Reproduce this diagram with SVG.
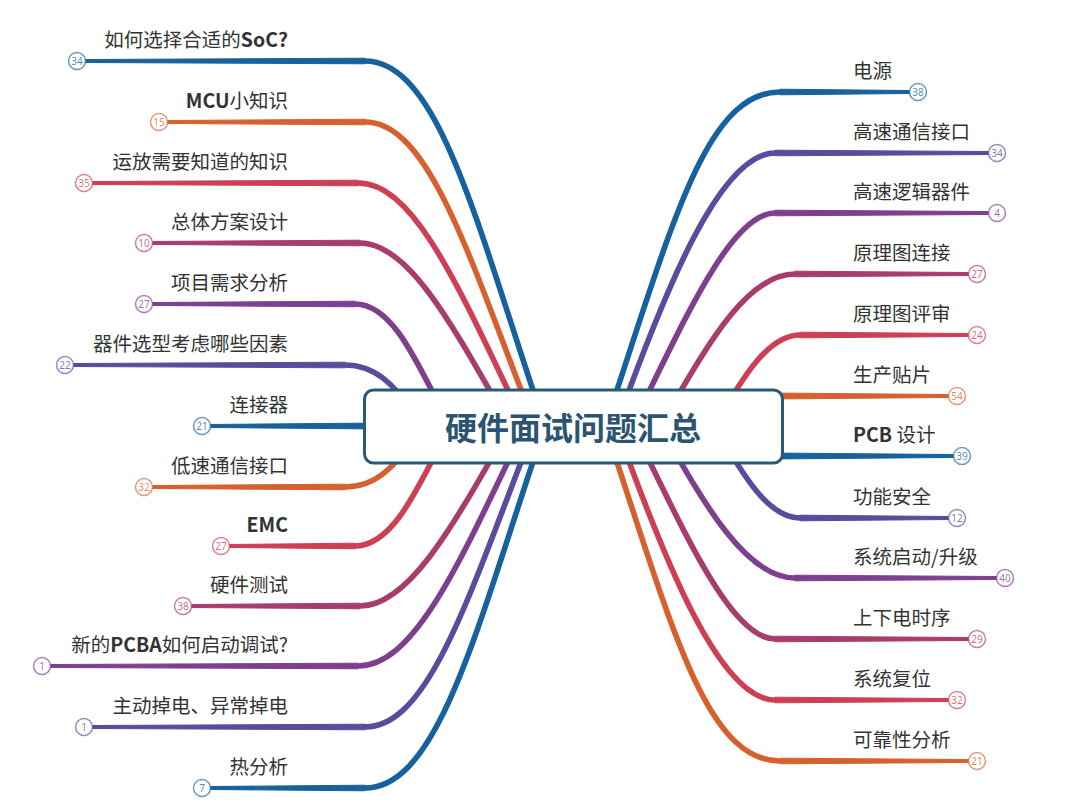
<svg xmlns="http://www.w3.org/2000/svg" width="1080" height="807" viewBox="0 0 1080 807">
<style>
.lbl{font-family:"Noto Sans CJK SC","Noto Sans",sans-serif;font-size:19.5px;fill:#333}
.b{font-weight:700}
.num{font-family:"Noto Sans","Liberation Sans",sans-serif;font-size:10px;text-anchor:middle}
.cv{fill:none;stroke-width:5.6;stroke-linecap:butt}
.dot{fill:#fff;stroke-width:1.5;stroke-opacity:.65}
.blue{stroke:#17629c;fill:#17629c}
.orange{stroke:#d6612f;fill:#d6612f}
.red{stroke:#cc3f55;fill:#cc3f55}
.magenta{stroke:#a83c6c;fill:#a83c6c}
.purple{stroke:#7d3f8e;fill:#7d3f8e}
.indigo{stroke:#5a4b9d;fill:#5a4b9d}
.cv.blue,.cv.orange,.cv.red,.cv.magenta,.cv.purple,.cv.indigo{fill:none}
polygon{stroke:none}
.dot.blue,.dot.orange,.dot.red,.dot.magenta,.dot.purple,.dot.indigo{fill:#fff}
.num.blue,.num.orange,.num.red,.num.magenta,.num.purple,.num.indigo{stroke:none;fill-opacity:.75}
</style>
<rect width="1080" height="807" fill="#fff"/>
<g id="connectors">
<!-- left -->
<polygon class="blue" points="85.5,59.5 365,58.2 365,63.8 85.5,62.5"/><path class="cv blue" d="M365,61 C440,61 478,230 545,426"/>
<polygon class="orange" points="167.5,120.5 365,119.2 365,124.8 167.5,123.5"/><path class="cv orange" d="M365,122 C430,122 470,260 535,426"/>
<polygon class="red" points="92.5,181.5 358,180.2 358,185.8 92.5,184.5"/><path class="cv red" d="M358,183 C415,183 460,290 525,426"/>
<polygon class="magenta" points="152.5,241.5 360,240.2 360,245.8 152.5,244.5"/><path class="cv magenta" d="M360,243 C410,243 455,330 510,426"/>
<polygon class="purple" points="152.5,302.5 355,301.2 355,306.8 152.5,305.5"/><path class="cv purple" d="M355,304 C395,304 420,370 450,426"/>
<polygon class="indigo" points="73.5,363.5 345,362.2 345,367.8 73.5,366.5"/><path class="cv indigo" d="M345,365 C375,365 395,385 412,412"/>
<polygon class="blue" points="210.5,424.5 380,423 380,429 210.5,427.5"/>
<polygon class="orange" points="152.5,485.5 345,484.2 345,489.8 152.5,488.5"/><path class="cv orange" d="M345,487 C375,487 395,467 412,440"/>
<polygon class="red" points="229.5,544.5 355,543.2 355,548.8 229.5,547.5"/><path class="cv red" d="M355,546 C395,546 420,482 450,426"/>
<polygon class="magenta" points="191.5,604.5 360,603.2 360,608.8 191.5,607.5"/><path class="cv magenta" d="M360,606 C410,606 455,522 510,426"/>
<polygon class="purple" points="50.5,664.5 358,663.2 358,668.8 50.5,667.5"/><path class="cv purple" d="M358,666 C415,666 460,562 525,426"/>
<polygon class="indigo" points="92.5,725.5 365,724.2 365,729.8 92.5,728.5"/><path class="cv indigo" d="M365,727 C430,727 470,592 535,426"/>
<polygon class="blue" points="210.5,786.5 365,785.2 365,790.8 210.5,789.5"/><path class="cv blue" d="M365,788 C440,788 478,622 545,426"/>
<!-- right -->
<polygon class="blue" points="909.5,90.5 780,89.2 780,94.8 909.5,93.5"/><path class="cv blue" d="M780,92 C705,92 672,226 605,426"/>
<polygon class="indigo" points="988.5,151.5 775,150.2 775,155.8 988.5,154.5"/><path class="cv indigo" d="M775,153 C720,153 665,290 616,426"/>
<polygon class="purple" points="988.5,211.5 775,210.2 775,215.8 988.5,214.5"/><path class="cv purple" d="M775,213 C730,213 682,326 632,426"/>
<polygon class="magenta" points="968.5,272.5 795,271.2 795,276.8 968.5,275.5"/><path class="cv magenta" d="M795,274 C745,274 705,350 660,426"/>
<polygon class="red" points="968.5,333.5 800,332.2 800,337.8 968.5,336.5"/><path class="cv red" d="M800,335 C770,335 745,372 715,426"/>
<polygon class="orange" points="948.5,394.5 770,393 770,399 948.5,397.5"/>
<polygon class="blue" points="953.5,454.5 770,453 770,459 953.5,457.5"/>
<polygon class="indigo" points="948.5,516.5 800,515.2 800,520.8 948.5,519.5"/><path class="cv indigo" d="M800,518 C770,518 745,480 715,426"/>
<polygon class="purple" points="996.5,576.5 795,575.2 795,580.8 996.5,579.5"/><path class="cv purple" d="M795,578 C745,578 702,500 660,426"/>
<polygon class="magenta" points="968.5,637.5 775,636.2 775,641.8 968.5,640.5"/><path class="cv magenta" d="M775,639 C730,639 682,526 632,426"/>
<polygon class="red" points="948.5,698.5 775,697.2 775,702.8 948.5,701.5"/><path class="cv red" d="M775,700 C720,700 665,562 616,426"/>
<polygon class="orange" points="968.5,759.5 780,758.2 780,763.8 968.5,762.5"/><path class="cv orange" d="M780,761 C705,761 672,626 605,426"/>
</g>
<g id="root">
<rect x="364.5" y="390" width="418" height="73" rx="9" fill="#fff" stroke="#2b5a74" stroke-width="3"/>
<text x="573" y="440" text-anchor="middle" font-family="'Noto Sans CJK SC',sans-serif" font-size="32" font-weight="700" fill="#2b5470">硬件面试问题汇总</text>
</g>
<!-- left nodes -->
<g id="n-l1"><circle class="dot blue" cx="77" cy="61" r="8.5"/><text class="num blue" x="77" y="64.5">34</text><text class="lbl" x="288" y="47" text-anchor="end">如何选择合适的<tspan class="b">SoC?</tspan></text></g>
<g id="n-l2"><circle class="dot orange" cx="159" cy="122" r="8.5"/><text class="num orange" x="159" y="125.5">15</text><text class="lbl" x="288" y="108" text-anchor="end"><tspan class="b">MCU</tspan>小知识</text></g>
<g id="n-l3"><circle class="dot red" cx="84" cy="183" r="8.5"/><text class="num red" x="84" y="186.5">35</text><text class="lbl" x="288" y="169" text-anchor="end">运放需要知道的知识</text></g>
<g id="n-l4"><circle class="dot magenta" cx="144" cy="243" r="8.5"/><text class="num magenta" x="144" y="246.5">10</text><text class="lbl" x="288" y="229" text-anchor="end">总体方案设计</text></g>
<g id="n-l5"><circle class="dot purple" cx="144" cy="304" r="8.5"/><text class="num purple" x="144" y="307.5">27</text><text class="lbl" x="288" y="290" text-anchor="end">项目需求分析</text></g>
<g id="n-l6"><circle class="dot indigo" cx="65" cy="365" r="8.5"/><text class="num indigo" x="65" y="368.5">22</text><text class="lbl" x="288" y="351" text-anchor="end">器件选型考虑哪些因素</text></g>
<g id="n-l7"><circle class="dot blue" cx="202" cy="426" r="8.5"/><text class="num blue" x="202" y="429.5">21</text><text class="lbl" x="288" y="412" text-anchor="end">连接器</text></g>
<g id="n-l8"><circle class="dot orange" cx="144" cy="487" r="8.5"/><text class="num orange" x="144" y="490.5">32</text><text class="lbl" x="288" y="473" text-anchor="end">低速通信接口</text></g>
<g id="n-l9"><circle class="dot red" cx="221" cy="546" r="8.5"/><text class="num red" x="221" y="549.5">27</text><text class="lbl" x="288" y="532" text-anchor="end"><tspan class="b">EMC</tspan></text></g>
<g id="n-l10"><circle class="dot magenta" cx="183" cy="606" r="8.5"/><text class="num magenta" x="183" y="609.5">38</text><text class="lbl" x="288" y="592" text-anchor="end">硬件测试</text></g>
<g id="n-l11"><circle class="dot purple" cx="42" cy="666" r="8.5"/><text class="num purple" x="42" y="669.5">1</text><text class="lbl" x="288" y="652" text-anchor="end">新的<tspan class="b">PCBA</tspan>如何启动调试?</text></g>
<g id="n-l12"><circle class="dot indigo" cx="84" cy="727" r="8.5"/><text class="num indigo" x="84" y="730.5">1</text><text class="lbl" x="288" y="713" text-anchor="end">主动掉电、异常掉电</text></g>
<g id="n-l13"><circle class="dot blue" cx="202" cy="788" r="8.5"/><text class="num blue" x="202" y="791.5">7</text><text class="lbl" x="288" y="774" text-anchor="end">热分析</text></g>
<!-- right nodes -->
<g id="n-r1"><circle class="dot blue" cx="918" cy="92" r="8.5"/><text class="num blue" x="918" y="95.5">38</text><text class="lbl" x="853" y="78">电源</text></g>
<g id="n-r2"><circle class="dot indigo" cx="997" cy="153" r="8.5"/><text class="num indigo" x="997" y="156.5">34</text><text class="lbl" x="853" y="139">高速通信接口</text></g>
<g id="n-r3"><circle class="dot purple" cx="997" cy="213" r="8.5"/><text class="num purple" x="997" y="216.5">4</text><text class="lbl" x="853" y="199">高速逻辑器件</text></g>
<g id="n-r4"><circle class="dot magenta" cx="977" cy="274" r="8.5"/><text class="num magenta" x="977" y="277.5">27</text><text class="lbl" x="853" y="260">原理图连接</text></g>
<g id="n-r5"><circle class="dot red" cx="977" cy="335" r="8.5"/><text class="num red" x="977" y="338.5">24</text><text class="lbl" x="853" y="321">原理图评审</text></g>
<g id="n-r6"><circle class="dot orange" cx="957" cy="396" r="8.5"/><text class="num orange" x="957" y="399.5">54</text><text class="lbl" x="853" y="382">生产贴片</text></g>
<g id="n-r7"><circle class="dot blue" cx="962" cy="456" r="8.5"/><text class="num blue" x="962" y="459.5">39</text><text class="lbl" x="853" y="442"><tspan class="b">PCB</tspan> 设计</text></g>
<g id="n-r8"><circle class="dot indigo" cx="957" cy="518" r="8.5"/><text class="num indigo" x="957" y="521.5">12</text><text class="lbl" x="853" y="504">功能安全</text></g>
<g id="n-r9"><circle class="dot purple" cx="1005" cy="578" r="8.5"/><text class="num purple" x="1005" y="581.5">40</text><text class="lbl" x="853" y="564">系统启动/升级</text></g>
<g id="n-r10"><circle class="dot magenta" cx="977" cy="639" r="8.5"/><text class="num magenta" x="977" y="642.5">29</text><text class="lbl" x="853" y="625">上下电时序</text></g>
<g id="n-r11"><circle class="dot red" cx="957" cy="700" r="8.5"/><text class="num red" x="957" y="703.5">32</text><text class="lbl" x="853" y="686">系统复位</text></g>
<g id="n-r12"><circle class="dot orange" cx="977" cy="761" r="8.5"/><text class="num orange" x="977" y="764.5">21</text><text class="lbl" x="853" y="747">可靠性分析</text></g>
</svg>
